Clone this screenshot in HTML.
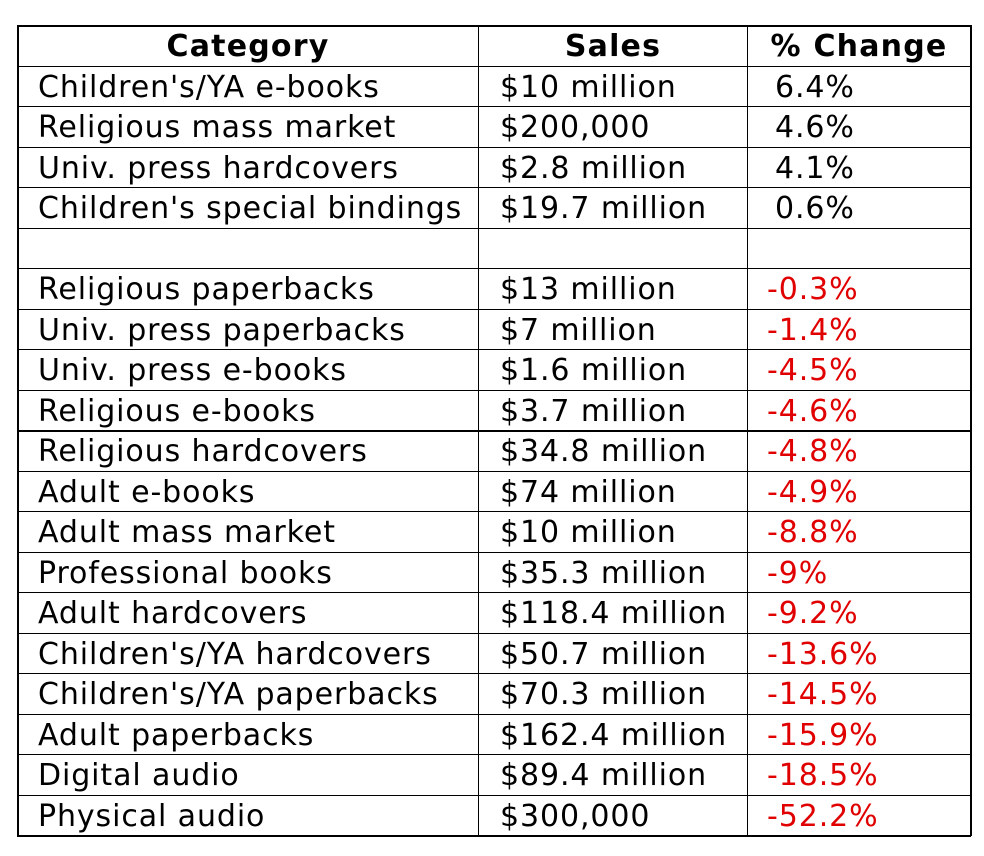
<!DOCTYPE html>
<html><head><style>
body{margin:0;width:984px;height:856px;background:#fff;position:relative;font-family:"DejaVu Sans",Verdana,sans-serif;font-size:30px;letter-spacing:0.9px;color:#000;overflow:hidden}
.h{position:absolute;left:17px;width:954px;height:1px;background:#000}
.v{position:absolute;top:25px;height:811px;width:1px;background:#000}
.t{position:absolute;height:40px;line-height:40px;white-space:nowrap;padding-top:2px}
.r{color:#e00000}
.b{font-weight:bold;text-align:center;letter-spacing:1.2px}
</style></head><body>
<div id="g"></div>
<script>
var rows=[["Children's/YA e-books","$10 million","6.4%"],["Religious mass market","$200,000","4.6%"],["Univ. press hardcovers","$2.8 million","4.1%"],["Children's special bindings","$19.7 million","0.6%"],["","",""],["Religious paperbacks","$13 million","-0.3%"],["Univ. press paperbacks","$7 million","-1.4%"],["Univ. press e-books","$1.6 million","-4.5%"],["Religious e-books","$3.7 million","-4.6%"],["Religious hardcovers","$34.8 million","-4.8%"],["Adult e-books","$74 million","-4.9%"],["Adult mass market","$10 million","-8.8%"],["Professional books","$35.3 million","-9%"],["Adult hardcovers","$118.4 million","-9.2%"],["Children's/YA hardcovers","$50.7 million","-13.6%"],["Children's/YA paperbacks","$70.3 million","-14.5%"],["Adult paperbacks","$162.4 million","-15.9%"],["Digital audio","$89.4 million","-18.5%"],["Physical audio","$300,000","-52.2%"]];
var h='';
for(var i=0;i<=20;i++){var y=Math.round(25+40.5*i);h+='<div class="h" style="top:'+y+'px;'+((i==0||i==20||i==10)?'height:2px;':'')+'"></div>';}
[17,478,747,970].forEach(function(x,j){h+='<div class="v" style="left:'+x+'px;'+((j==0||j==3)?'width:2px;':'')+'"></div>';});
h+='<div class="t b" style="left:18px;width:460px;top:25px">Category</div>';
h+='<div class="t b" style="left:479px;width:268px;top:25px">Sales</div>';
h+='<div class="t b" style="left:748px;width:222px;top:25px">% Change</div>';
rows.forEach(function(r,i){var y=Math.round(25+40.5*(i+1));
h+='<div class="t" style="left:38px;top:'+y+'px">'+r[0]+'</div>';
h+='<div class="t" style="left:500px;top:'+y+'px">'+r[1]+'</div>';
var neg=r[2].charAt(0)=='-';
h+='<div class="t'+(neg?' r':'')+'" style="left:'+(neg?767:775)+'px;top:'+y+'px">'+r[2]+'</div>';});
document.getElementById('g').innerHTML=h;
</script>
</body></html>
